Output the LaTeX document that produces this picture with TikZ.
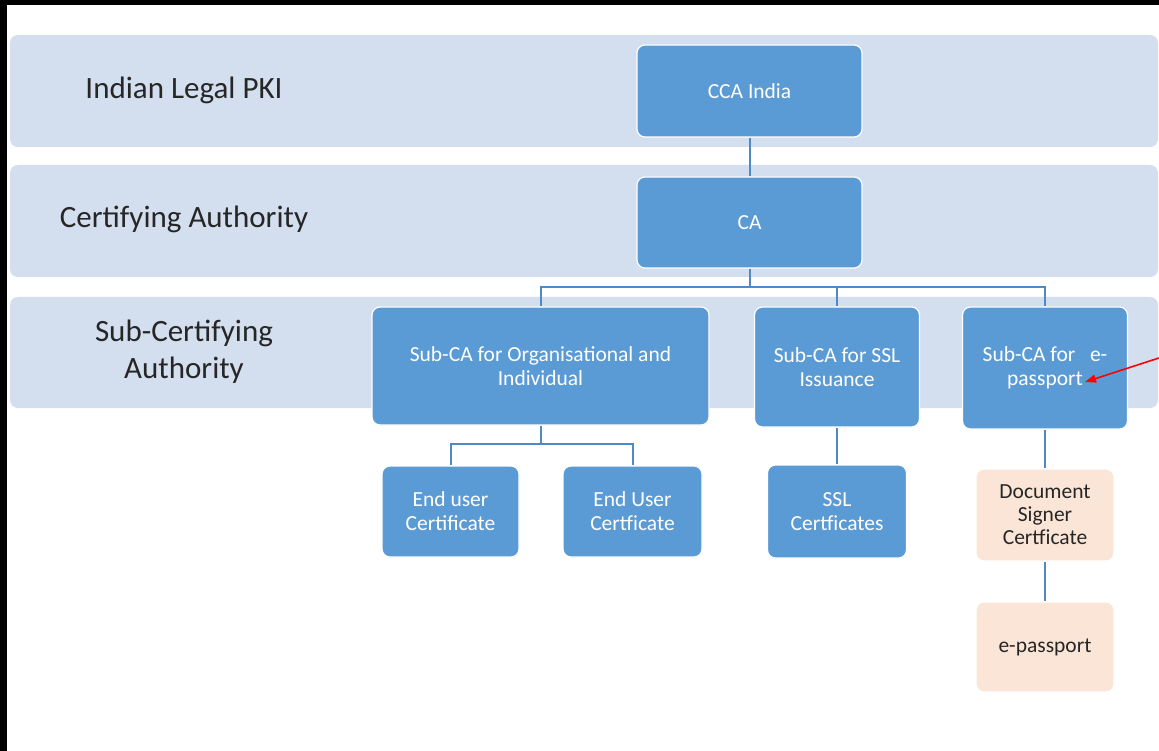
\documentclass[tikz,border=0pt]{standalone}
\usepackage{fontspec}
\setmainfont{Carlito}
\usetikzlibrary{arrows.meta}
\definecolor{bandc}{HTML}{D3DEEF}
\definecolor{boxc}{HTML}{5B9BD5}
\definecolor{peach}{HTML}{FBE5D6}
\definecolor{linkc}{HTML}{4F89C6}
\definecolor{txtc}{HTML}{262626}
\tikzset{
  band/.style={fill=bandc, draw=none, rounded corners=8pt, inner sep=0pt},
  lbl/.style={text=txtc, font=\fontsize{31}{37}\selectfont, align=center, inner sep=0pt},
  bluebox/.style={fill=boxc, draw=white, line width=1.2pt, rounded corners=8pt, text=white,
    font=\fontsize{21.5}{24}\selectfont, align=center, inner sep=0pt},
  peachbox/.style={fill=peach, draw=white, line width=1.2pt, rounded corners=8pt, text=txtc,
    font=\fontsize{21.5}{23}\selectfont, align=center, inner sep=0pt},
  link/.style={draw=linkc, line width=2pt},
  redarrow/.style={draw=red, line width=1.6pt, -{Triangle[length=11pt,width=8pt]}}
}
\begin{document}
\begin{tikzpicture}[x=1pt,y=-1pt]
\useasboundingbox (0,0) rectangle (1159,751);
\fill[white] (0,0) rectangle (1159,751);
\fill[black] (0,0) rectangle (1159,5);
\fill[black] (0,0) rectangle (7,751);
% bands
\node[band, minimum width=1148pt, minimum height=112pt] (band1) at (584,91) {};
\node[band, minimum width=1148pt, minimum height=112pt] (band2) at (584,221) {};
\node[band, minimum width=1148pt, minimum height=111pt] (band3) at (584,352.5) {};
% band labels
\node[lbl] (l1) at (184,90) {Indian Legal PKI};
\node[lbl] (l2) at (184,219) {Certifying Authority};
\node[lbl] (l3) at (184,352) {Sub-Certifying\\Authority};
% boxes
\node[bluebox, minimum width=225pt, minimum height=92pt] (cca) at (749.5,91) {CCA India};
\node[bluebox, minimum width=225pt, minimum height=91pt] (ca) at (749.5,222.5) {CA};
\node[bluebox, minimum width=337pt, minimum height=118pt] (org) at (540.5,366) {Sub-CA for Organisational and\\Individual};
\node[bluebox, minimum width=165pt, minimum height=120pt] (ssl) at (837,367) {Sub-CA for SSL\\Issuance};
\node[bluebox, minimum width=165pt, minimum height=122pt] (ep) at (1045,368) {Sub-CA for \ \ e-\\passport};
\node[bluebox, minimum width=137pt, minimum height=91pt] (eu1) at (450.5,511.5) {End user\\Certificate};
\node[bluebox, minimum width=139pt, minimum height=91pt] (eu2) at (632.5,511.5) {End User\\Certficate};
\node[bluebox, minimum width=139pt, minimum height=93pt] (sslc) at (837,511.5) {SSL\\Certficates};
\node[peachbox, minimum width=138pt, minimum height=92pt] (ds) at (1045,515) {Document\\Signer\\Certficate};
\node[peachbox, minimum width=138pt, minimum height=90pt] (epp) at (1045,647) {e-passport};
% connectors
\coordinate (busA) at (749.5,287);
\coordinate (busB) at (540.5,444);
\draw[link] (cca.south) -- (ca.north);
\draw[link] (ca.south) -- (busA);
\draw[link] (busA) -| (org.north);
\draw[link] (busA) -| (ssl.north);
\draw[link] (busA) -| (ep.north);
\draw[link] (org.south) -- (busB);
\draw[link] (busB) -| (eu1.north);
\draw[link] (busB) -| (eu2.north);
\draw[link] (ssl.south) -- (sslc.north);
\draw[link] (ep.south) -- (ds.north);
\draw[link] (ds.south) -- (epp.north);
% red arrow
\coordinate (rstart) at (1162,357);
\coordinate (rend) at (1085,382);
\draw[redarrow] (rstart) -- (rend);
\end{tikzpicture}
\end{document}
